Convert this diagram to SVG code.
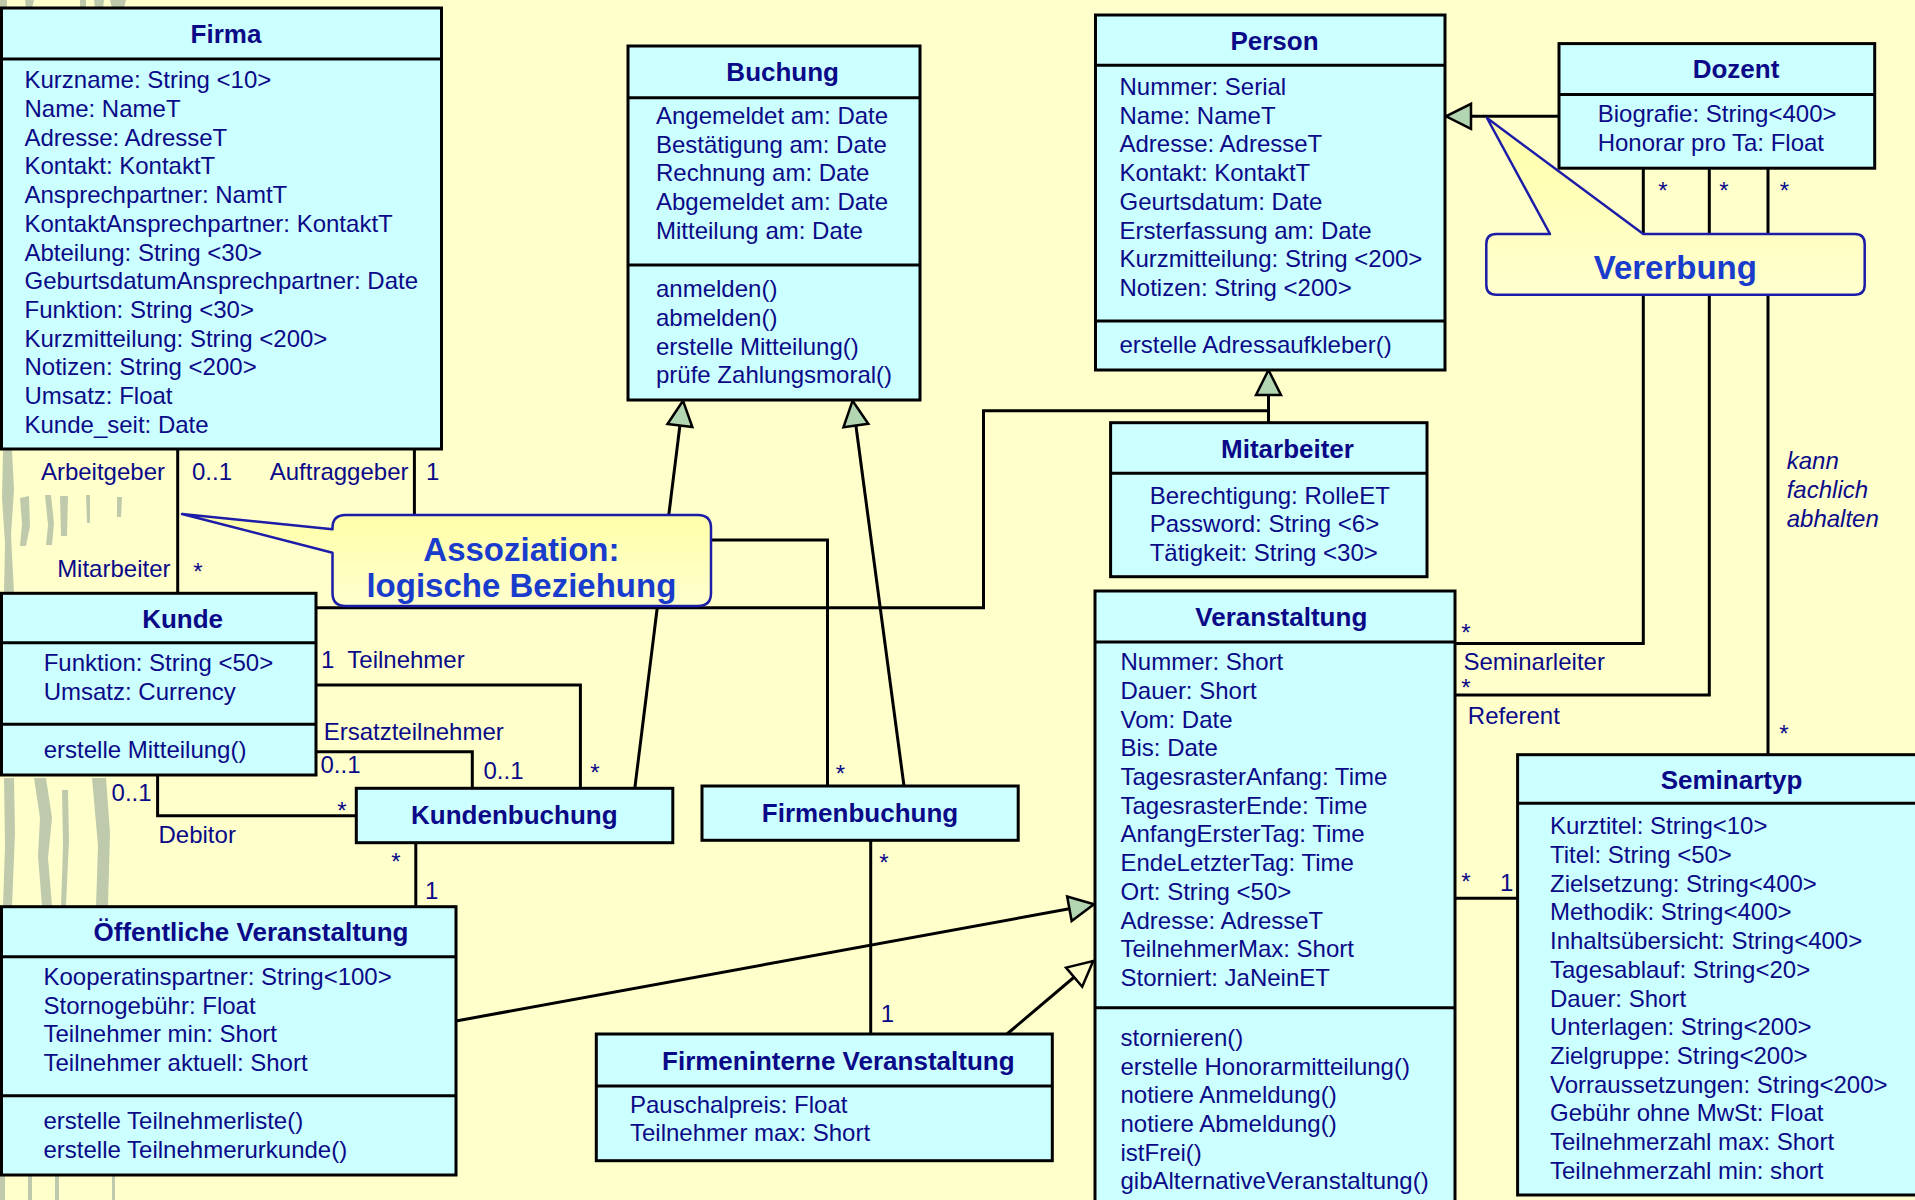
<svg xmlns="http://www.w3.org/2000/svg" width="1915" height="1200" viewBox="0 0 1915 1200">
  <defs>
    <style>
      .box{fill:#ccffff;stroke:#000;stroke-width:3}
      .sep{stroke:#000;stroke-width:3}
      .ln{fill:none;stroke:#000;stroke-width:3}
      .tx{font-family:"Liberation Sans",Arial,sans-serif;font-size:24px;fill:#0a0a88}
      .ti{font-family:"Liberation Sans",Arial,sans-serif;font-size:26px;font-weight:bold;fill:#0a0a88;text-anchor:middle}
      .en{text-anchor:end}
      .mid{text-anchor:middle}
      .it{font-style:italic}
      .call{fill:url(#callFill);stroke:#1c1ca8;stroke-width:2.5;stroke-linejoin:round}
      .ct{font-family:"Liberation Sans",Arial,sans-serif;font-weight:bold;fill:#1a3ccc;text-anchor:middle}
      .grass{fill:#a9b8a2;opacity:0.75}
    </style>
    <linearGradient id="callFill" x1="0" y1="0" x2="0" y2="1">
      <stop offset="0" stop-color="#ffffa8"/>
      <stop offset="1" stop-color="#ffffcf"/>
    </linearGradient>
    <!-- generalization arrowhead (filled) -->
    <marker id="gen" viewBox="-3 -3 32 32" markerUnits="userSpaceOnUse" markerWidth="32" markerHeight="32" refX="25" refY="12.5" orient="auto">
      <path d="M0,0 L25,12.5 L0,25 Z" fill="#b2d5b2" stroke="#000" stroke-width="2.5"/>
    </marker>
    <!-- generalization arrowhead (hollow) -->
    <marker id="genOpen" viewBox="-3 -3 32 32" markerUnits="userSpaceOnUse" markerWidth="32" markerHeight="32" refX="25" refY="12.5" orient="auto">
      <path d="M0,0 L25,12.5 L0,25 Z" fill="#ffffcc" stroke="#000" stroke-width="2.5"/>
    </marker>
  </defs>

  <!-- page background -->
  <rect x="0" y="0" width="1915" height="1200" fill="#ffffcc"/>

  <!-- faint reed texture along the left margin -->
  <g id="backdrop">
    <path class="grass" d="M0,0 h7 v8 h-7 Z M25,0 h9 l-2,8 h-6 Z M80,0 h6 v8 h-6 Z M94,0 h10 l-1,8 h-8 Z M110,0 h16 l-2,8 h-12 Z"/>
    <path class="grass" d="M3,450 l9,0 l2,40 l-3,45 l3,58 l-10,0 l1,-50 l-3,-45 Z"/>
    <path class="grass" d="M20,498 l9,-2 l1,30 l-4,20 l-6,0 l2,-22 Z"/>
    <path class="grass" d="M45,495 l6,0 l3,28 l-2,22 l-6,0 l2,-20 Z"/>
    <path class="grass" d="M60,496 l8,0 l-1,40 l-6,0 Z"/>
    <path class="grass" d="M86,495 l4,0 l0,28 l-3,0 Z"/>
    <path class="grass" d="M117,497 l5,0 l-1,20 l-4,0 Z"/>
    <path class="grass" d="M4,778 l10,0 l1,55 l-3,73 l-9,0 l2,-60 Z"/>
    <path class="grass" d="M34,778 l12,0 l6,40 l-4,40 l4,48 l-10,0 l-4,-50 l2,-38 Z"/>
    <path class="grass" d="M62,790 l6,0 l1,50 l-3,66 l-5,0 l2,-60 Z"/>
    <path class="grass" d="M92,778 l14,0 l4,55 l-2,73 l-12,0 l2,-60 Z"/>
    <path class="grass" d="M0,1176 h5 v24 h-5 Z M28,1176 h4 v24 h-4 Z M55,1176 h4 v24 h-4 Z M112,1176 h3 v24 h-3 Z"/>
  </g>

  <!-- associations and generalizations -->
  <g id="connectors">
    <path class="ln" d="M177.7,449 V593.3"/>
    <path class="ln" d="M414.4,449 V540 H827.5 V786"/>
    <path class="ln" d="M316,607.7 H983.5 V410.7 H1268.5"/>
    <path class="ln" d="M1268.5,422.7 V370" marker-end="url(#gen)"/>
    <path class="ln" d="M316,685 H580.4 V788.3"/>
    <path class="ln" d="M316,751.7 H472.3 V788.3"/>
    <path class="ln" d="M157.6,775 V815.7 H356.3"/>
    <path class="ln" d="M415.8,842.7 V906.7"/>
    <path class="ln" d="M634.8,788.3 L683,400.7" marker-end="url(#gen)"/>
    <path class="ln" d="M904,786 L852.6,400.7" marker-end="url(#gen)"/>
    <path class="ln" d="M870.7,840.3 V1034"/>
    <path class="ln" d="M456,1021 L1094,904.3" marker-end="url(#gen)"/>
    <path class="ln" d="M1007,1034 L1093.2,961" marker-end="url(#genOpen)"/>
    <path class="ln" d="M1558.7,116.3 H1446" marker-end="url(#gen)"/>
    <path class="ln" d="M1643.3,168.2 V643.5 H1455"/>
    <path class="ln" d="M1709.3,168.2 V695 H1455"/>
    <path class="ln" d="M1768,168.2 V754.7"/>
    <path class="ln" d="M1455,898.3 H1517.6"/>

    <!-- role names and multiplicities -->
    <text class="tx en" x="165" y="480">Arbeitgeber</text>
    <text class="tx" x="192" y="480">0..1</text>
    <text class="tx en" x="408.5" y="480">Auftraggeber</text>
    <text class="tx" x="426" y="480">1</text>
    <text class="tx en" x="170.5" y="576.7">Mitarbeiter</text>
    <text class="tx mid" x="198" y="580">*</text>
    <text class="tx" x="321" y="668.3">1</text>
    <text class="tx" x="347.3" y="668.3">Teilnehmer</text>
    <text class="tx" x="323.7" y="740">Ersatzteilnehmer</text>
    <text class="tx" x="320.5" y="772.7">0..1</text>
    <text class="tx" x="483.5" y="779.3">0..1</text>
    <text class="tx mid" x="595" y="781">*</text>
    <text class="tx" x="111.6" y="801">0..1</text>
    <text class="tx mid" x="342" y="819">*</text>
    <text class="tx" x="158.5" y="842.7">Debitor</text>
    <text class="tx mid" x="396" y="870">*</text>
    <text class="tx" x="425" y="899.3">1</text>
    <text class="tx mid" x="840.4" y="782">*</text>
    <text class="tx mid" x="884" y="871">*</text>
    <text class="tx" x="880.7" y="1021.7">1</text>
    <text class="tx mid" x="1663" y="199">*</text>
    <text class="tx mid" x="1724" y="199">*</text>
    <text class="tx mid" x="1784.3" y="199">*</text>
    <text class="tx mid" x="1466" y="641">*</text>
    <text class="tx" x="1463.5" y="669.5">Seminarleiter</text>
    <text class="tx mid" x="1466" y="695.5">*</text>
    <text class="tx" x="1467.8" y="724">Referent</text>
    <text class="tx mid" x="1784" y="741.5">*</text>
    <text class="tx mid" x="1466" y="890">*</text>
    <text class="tx" x="1500" y="890.7">1</text>
    <text class="tx it" x="1786.7" y="469">kann</text>
    <text class="tx it" x="1786.7" y="497.8">fachlich</text>
    <text class="tx it" x="1786.7" y="526.5">abhalten</text>
  </g>

  <g id="firma">
    <rect class="box" x="1.5" y="8" width="440" height="441"/>
    <line class="sep" x1="1.5" y1="59" x2="441.5" y2="59"/>
    <text class="ti" x="226" y="43.3">Firma</text>
    <text class="tx">
      <tspan x="24.5" y="88.3">Kurzname: String &lt;10&gt;</tspan>
      <tspan x="24.5" y="117">Name: NameT</tspan>
      <tspan x="24.5" y="145.7">Adresse: AdresseT</tspan>
      <tspan x="24.5" y="174.4">Kontakt: KontaktT</tspan>
      <tspan x="24.5" y="203.1">Ansprechpartner: NamtT</tspan>
      <tspan x="24.5" y="231.8">KontaktAnsprechpartner: KontaktT</tspan>
      <tspan x="24.5" y="260.5">Abteilung: String &lt;30&gt;</tspan>
      <tspan x="24.5" y="289.2">GeburtsdatumAnsprechpartner: Date</tspan>
      <tspan x="24.5" y="317.9">Funktion: String &lt;30&gt;</tspan>
      <tspan x="24.5" y="346.6">Kurzmitteilung: String &lt;200&gt;</tspan>
      <tspan x="24.5" y="375.3">Notizen: String &lt;200&gt;</tspan>
      <tspan x="24.5" y="404">Umsatz: Float</tspan>
      <tspan x="24.5" y="432.7">Kunde_seit: Date</tspan>
    </text>
  </g>

  <g id="buchung">
    <rect class="box" x="628" y="46" width="292" height="354"/>
    <line class="sep" x1="628" y1="97.7" x2="920" y2="97.7"/>
    <line class="sep" x1="628" y1="265" x2="920" y2="265"/>
    <text class="ti" x="782.7" y="81">Buchung</text>
    <text class="tx">
      <tspan x="656" y="124">Angemeldet am: Date</tspan>
      <tspan x="656" y="152.7">Bestätigung am: Date</tspan>
      <tspan x="656" y="181.4">Rechnung am: Date</tspan>
      <tspan x="656" y="210.1">Abgemeldet am: Date</tspan>
      <tspan x="656" y="238.8">Mitteilung am: Date</tspan>
      <tspan x="656" y="297.3">anmelden()</tspan>
      <tspan x="656" y="326">abmelden()</tspan>
      <tspan x="656" y="354.7">erstelle Mitteilung()</tspan>
      <tspan x="656" y="383.4">prüfe Zahlungsmoral()</tspan>
    </text>
  </g>

  <g id="person">
    <rect class="box" x="1095.5" y="15" width="349.5" height="355"/>
    <line class="sep" x1="1095.5" y1="65.3" x2="1445" y2="65.3"/>
    <line class="sep" x1="1095.5" y1="321" x2="1445" y2="321"/>
    <text class="ti" x="1274.5" y="50">Person</text>
    <text class="tx">
      <tspan x="1119.5" y="95">Nummer: Serial</tspan>
      <tspan x="1119.5" y="123.7">Name: NameT</tspan>
      <tspan x="1119.5" y="152.4">Adresse: AdresseT</tspan>
      <tspan x="1119.5" y="181.1">Kontakt: KontaktT</tspan>
      <tspan x="1119.5" y="209.8">Geurtsdatum: Date</tspan>
      <tspan x="1119.5" y="238.5">Ersterfassung am: Date</tspan>
      <tspan x="1119.5" y="267.2">Kurzmitteilung: String &lt;200&gt;</tspan>
      <tspan x="1119.5" y="295.9">Notizen: String &lt;200&gt;</tspan>
      <tspan x="1119.5" y="353.3">erstelle Adressaufkleber()</tspan>
    </text>
  </g>

  <g id="dozent">
    <rect class="box" x="1559" y="43.6" width="315.7" height="124.6"/>
    <line class="sep" x1="1559" y1="94.5" x2="1874.7" y2="94.5"/>
    <text class="ti" x="1736" y="78.3">Dozent</text>
    <text class="tx">
      <tspan x="1597.7" y="122.3">Biografie: String&lt;400&gt;</tspan>
      <tspan x="1597.7" y="151.3">Honorar pro Ta: Float</tspan>
    </text>
  </g>

  <g id="mitarbeiter">
    <rect class="box" x="1110.6" y="422.7" width="316.4" height="154"/>
    <line class="sep" x1="1110.6" y1="473.3" x2="1427" y2="473.3"/>
    <text class="ti" x="1287.5" y="457.8">Mitarbeiter</text>
    <text class="tx">
      <tspan x="1149.7" y="503.5">Berechtigung: RolleET</tspan>
      <tspan x="1149.7" y="532">Password: String &lt;6&gt;</tspan>
      <tspan x="1149.7" y="560.5">Tätigkeit: String &lt;30&gt;</tspan>
    </text>
  </g>

  <g id="kunde">
    <rect class="box" x="1.5" y="593.3" width="314.5" height="181.7"/>
    <line class="sep" x1="1.5" y1="642.7" x2="316" y2="642.7"/>
    <line class="sep" x1="1.5" y1="724.3" x2="316" y2="724.3"/>
    <text class="ti" x="182.6" y="627.8">Kunde</text>
    <text class="tx">
      <tspan x="43.7" y="671">Funktion: String &lt;50&gt;</tspan>
      <tspan x="43.7" y="699.7">Umsatz: Currency</tspan>
      <tspan x="43.7" y="758.3">erstelle Mitteilung()</tspan>
    </text>
  </g>

  <g id="kundenbuchung">
    <rect class="box" x="356.3" y="788.3" width="316.5" height="54.4"/>
    <text class="ti" x="514.3" y="824.3">Kundenbuchung</text>
  </g>

  <g id="firmenbuchung">
    <rect class="box" x="702" y="786" width="316.2" height="54.3"/>
    <text class="ti" x="860" y="822.3">Firmenbuchung</text>
  </g>

  <g id="veranstaltung">
    <rect class="box" x="1095" y="591" width="360" height="640"/>
    <line class="sep" x1="1095" y1="642" x2="1455" y2="642"/>
    <line class="sep" x1="1095" y1="1007.8" x2="1455" y2="1007.8"/>
    <text class="ti" x="1281.3" y="626">Veranstaltung</text>
    <text class="tx">
      <tspan x="1120.5" y="670.2">Nummer: Short</tspan>
      <tspan x="1120.5" y="698.9">Dauer: Short</tspan>
      <tspan x="1120.5" y="727.6">Vom: Date</tspan>
      <tspan x="1120.5" y="756.3">Bis: Date</tspan>
      <tspan x="1120.5" y="785">TagesrasterAnfang: Time</tspan>
      <tspan x="1120.5" y="813.7">TagesrasterEnde: Time</tspan>
      <tspan x="1120.5" y="842.4">AnfangErsterTag: Time</tspan>
      <tspan x="1120.5" y="871.1">EndeLetzterTag: Time</tspan>
      <tspan x="1120.5" y="899.8">Ort: String &lt;50&gt;</tspan>
      <tspan x="1120.5" y="928.5">Adresse: AdresseT</tspan>
      <tspan x="1120.5" y="957.2">TeilnehmerMax: Short</tspan>
      <tspan x="1120.5" y="985.9">Storniert: JaNeinET</tspan>
      <tspan x="1120.5" y="1045.8">stornieren()</tspan>
      <tspan x="1120.5" y="1074.5">erstelle Honorarmitteilung()</tspan>
      <tspan x="1120.5" y="1103.2">notiere Anmeldung()</tspan>
      <tspan x="1120.5" y="1131.9">notiere Abmeldung()</tspan>
      <tspan x="1120.5" y="1160.6">istFrei()</tspan>
      <tspan x="1120.5" y="1189.3">gibAlternativeVeranstaltung()</tspan>
    </text>
  </g>

  <g id="seminartyp">
    <rect class="box" x="1517.6" y="754.7" width="420" height="440.3"/>
    <line class="sep" x1="1517.6" y1="803.3" x2="1937.6" y2="803.3"/>
    <text class="ti" x="1731.5" y="788.8">Seminartyp</text>
    <text class="tx">
      <tspan x="1550" y="834.3">Kurztitel: String&lt;10&gt;</tspan>
      <tspan x="1550" y="863">Titel: String &lt;50&gt;</tspan>
      <tspan x="1550" y="891.7">Zielsetzung: String&lt;400&gt;</tspan>
      <tspan x="1550" y="920.4">Methodik: String&lt;400&gt;</tspan>
      <tspan x="1550" y="949.1">Inhaltsübersicht: String&lt;400&gt;</tspan>
      <tspan x="1550" y="977.8">Tagesablauf: String&lt;20&gt;</tspan>
      <tspan x="1550" y="1006.5">Dauer: Short</tspan>
      <tspan x="1550" y="1035.2">Unterlagen: String&lt;200&gt;</tspan>
      <tspan x="1550" y="1063.9">Zielgruppe: String&lt;200&gt;</tspan>
      <tspan x="1550" y="1092.6">Vorraussetzungen: String&lt;200&gt;</tspan>
      <tspan x="1550" y="1121.3">Gebühr ohne MwSt: Float</tspan>
      <tspan x="1550" y="1150">Teilnehmerzahl max: Short</tspan>
      <tspan x="1550" y="1178.7">Teilnehmerzahl min: short</tspan>
    </text>
  </g>

  <g id="oeffentliche-veranstaltung">
    <rect class="box" x="1.5" y="906.7" width="454.5" height="268.3"/>
    <line class="sep" x1="1.5" y1="956.7" x2="456" y2="956.7"/>
    <line class="sep" x1="1.5" y1="1095.7" x2="456" y2="1095.7"/>
    <text class="ti" x="251" y="941.3">Öffentliche Veranstaltung</text>
    <text class="tx">
      <tspan x="43.5" y="985">Kooperatinspartner: String&lt;100&gt;</tspan>
      <tspan x="43.5" y="1013.7">Stornogebühr: Float</tspan>
      <tspan x="43.5" y="1042.4">Teilnehmer min: Short</tspan>
      <tspan x="43.5" y="1071.1">Teilnehmer aktuell: Short</tspan>
      <tspan x="43.5" y="1129.3">erstelle Teilnehmerliste()</tspan>
      <tspan x="43.5" y="1158">erstelle Teilnehmerurkunde()</tspan>
    </text>
  </g>

  <g id="firmeninterne-veranstaltung">
    <rect class="box" x="596.3" y="1034" width="456" height="126.7"/>
    <line class="sep" x1="596.3" y1="1086" x2="1052.3" y2="1086"/>
    <text class="ti" x="838.3" y="1069.5">Firmeninterne Veranstaltung</text>
    <text class="tx">
      <tspan x="630" y="1112.7">Pauschalpreis: Float</tspan>
      <tspan x="630" y="1141.4">Teilnehmer max: Short</tspan>
    </text>
  </g>

  <!-- explanatory callouts -->
  <g id="callout-assoziation">
    <path class="call" d="M345.5,515 L698,515 Q711,515 711,528 L711,593 Q711,606 698,606 L345.5,606 Q332.5,606 332.5,593 L332.5,552.7 L182,514 L332.5,529.3 L332.5,528 Q332.5,515 345.5,515 Z"/>
    <text class="ct" x="521.4" y="560.5" font-size="33">Assoziation:</text>
    <text class="ct" x="521.4" y="597" font-size="33">logische Beziehung</text>
  </g>

  <g id="callout-vererbung">
    <path class="call" d="M1496.3,234 L1550,234 L1487,118 L1643.3,234 L1854.7,234 Q1864.7,234 1864.7,244 L1864.7,284.7 Q1864.7,294.7 1854.7,294.7 L1496.3,294.7 Q1486.3,294.7 1486.3,284.7 L1486.3,244 Q1486.3,234 1496.3,234 Z"/>
    <text class="ct" x="1675.3" y="278.7" font-size="33">Vererbung</text>
  </g>
</svg>
